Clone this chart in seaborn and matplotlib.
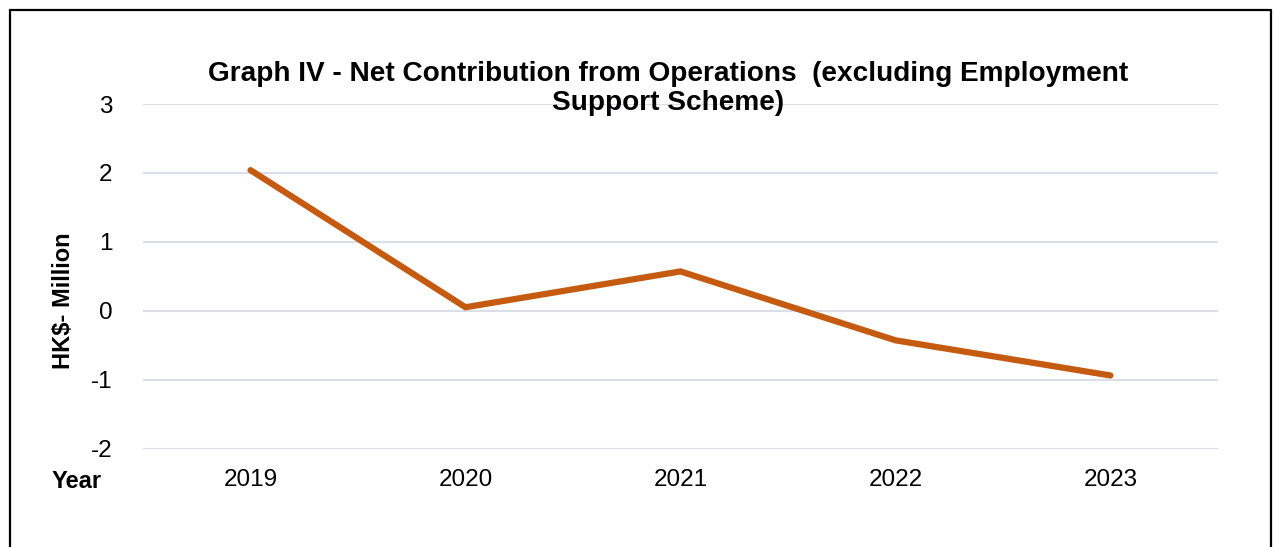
import matplotlib
matplotlib.use("Agg")
import matplotlib.pyplot as plt
import seaborn as sns
import pandas as pd
from matplotlib.lines import Line2D

years = ["2019", "2020", "2021", "2022", "2023"]
net_contribution = [2.04, 0.05, 0.57, -0.43, -0.94]
y_ticks = [-2, -1, 0, 1, 2, 3]

sns.set_theme(style="white")
plt.rcParams["font.family"] = ["Liberation Sans", "DejaVu Sans"]
plt.rcParams["text.color"] = "black"

df = pd.DataFrame({"Year": years, "Net": net_contribution})

W, H = 1274, 547
fig = plt.figure(figsize=(W / 100, H / 100), dpi=100)
ax = fig.add_axes([143 / W, 1 - 448.5 / H, (1218 - 143) / W, (448.5 - 104) / H])

sns.lineplot(data=df, x="Year", y="Net", ax=ax, color="#C55A11", linewidth=4.5,
             sort=False)
for ln in ax.lines:
    ln.set_solid_capstyle("round")
    ln.set_solid_joinstyle("miter")

ax.set_xlim(-0.5, len(years) - 0.5)
ax.set_ylim(-2, 3)
ax.set_yticks(y_ticks)
ax.set_yticklabels([str(t) for t in y_ticks])
ax.yaxis.grid(True, color="#D9DEE7", linewidth=1.5)
ax.set_axisbelow(True)
for s in ax.spines.values():
    s.set_visible(False)
ax.tick_params(axis="both", length=0, labelsize=17.5, colors="black")
ax.tick_params(axis="y", pad=22)
ax.tick_params(axis="x", pad=15)
ax.set_xlabel("")
ax.set_ylabel("")

fig.text(63 / W, 1 - 301 / H, "HK$- Million", rotation=90, ha="center", va="center",
         fontsize=17, fontweight="bold", color="black")
fig.text(52 / W, 1 - 482 / H, "Year", ha="left", va="center",
         fontsize=17, fontweight="bold", color="black")
fig.text(668 / W, 1 - 61 / H,
         "Graph IV - Net Contribution from Operations  (excluding Employment\nSupport Scheme)",
         ha="center", va="top", fontsize=20.2, fontweight="bold", linespacing=1.15,
         color="black")

# frame around the chart
border = dict(color="black", linewidth=1.6, transform=fig.transFigure)
fig.add_artist(Line2D([10 / W, 10 / W], [0, 1 - 10 / H], **border))
fig.add_artist(Line2D([10 / W, 1271 / W], [1 - 10 / H, 1 - 10 / H], **border))
fig.add_artist(Line2D([1271 / W, 1271 / W], [0, 1 - 10 / H], **border))

fig.savefig("out.png", dpi=100)
